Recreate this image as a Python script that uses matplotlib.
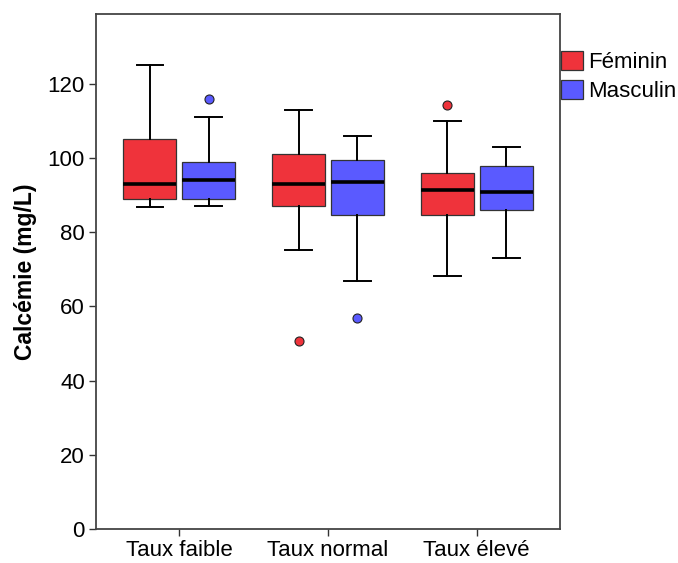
import matplotlib
matplotlib.use("Agg")
import matplotlib.pyplot as plt
from matplotlib.patches import Patch

plt.rcParams['font.family'] = ['Liberation Sans', 'DejaVu Sans']

categories = ["Taux faible", "Taux normal", "Taux élevé"]
groups = ["Féminin", "Masculin"]
colors = ["#EF333B", "#5A5AFF"]

# per group, per category: whislo, q1, med, q3, whishi, outliers
fem_whislo = [86.8, 75.1, 68.3]
fem_q1 = [89.1, 87.1, 84.7]
fem_med = [93.0, 93.0, 91.4]
fem_q3 = [105.2, 101.1, 96.0]
fem_whishi = [125.0, 113.0, 110.0]
fem_fliers = [[], [50.8], [114.2]]

mas_whislo = [87.1, 66.9, 73.2]
mas_q1 = [89.1, 84.6, 86.0]
mas_med = [94.1, 93.7, 91.0]
mas_q3 = [99.0, 99.5, 97.9]
mas_whishi = [111.0, 106.0, 103.0]
mas_fliers = [[116.0], [57.0], []]

yticks = [0, 20, 40, 60, 80, 100, 120]

fig = plt.figure(figsize=(6.78, 5.63), dpi=100)
ax = fig.add_axes([0.1416, 0.0604, 0.6844, 0.9156])

series = [
    (fem_whislo, fem_q1, fem_med, fem_q3, fem_whishi, fem_fliers),
    (mas_whislo, mas_q1, mas_med, mas_q3, mas_whishi, mas_fliers),
]
offsets = [-0.198, 0.198]
width = 0.358
for gi, (wlo, q1, med, q3, whi, fl) in enumerate(series):
    stats = []
    for i in range(len(categories)):
        stats.append(dict(whislo=wlo[i], q1=q1[i], med=med[i], q3=q3[i],
                          whishi=whi[i], fliers=fl[i]))
    pos = [i + offsets[gi] for i in range(len(categories))]
    ax.bxp(stats, positions=pos, widths=width, patch_artist=True,
           showfliers=True, manage_ticks=False,
           boxprops=dict(facecolor=colors[gi], edgecolor="#333333", linewidth=0.9),
           medianprops=dict(color="black", linewidth=2.6, solid_capstyle="butt"),
           whiskerprops=dict(color="black", linewidth=1.4),
           capprops=dict(color="black", linewidth=1.4),
           flierprops=dict(marker="o", markerfacecolor=colors[gi],
                           markeredgecolor="#222222", markersize=6.5,
                           markeredgewidth=0.8))

ax.set_xlim(-0.56, 2.56)
ax.set_ylim(0, 139)
ax.set_xticks(range(len(categories)))
ax.set_xticklabels(categories, fontsize=16)
ax.set_yticks(yticks)
ax.set_yticklabels([str(v) for v in yticks], fontsize=16)
ax.tick_params(axis="both", direction="out", length=5, width=1.0, color="#333333", pad=3)
for s in ax.spines.values():
    s.set_color("#444444")
    s.set_linewidth(1.3)
ax.set_ylabel("Calcémie (mg/L)", fontsize=16.5, fontweight="bold", labelpad=8)

handles = [Patch(facecolor=c, edgecolor="#333333", linewidth=0.9) for c in colors]
leg = ax.legend(handles, groups, loc="upper left", bbox_to_anchor=(1.003, 0.928),
                frameon=False, fontsize=16, handlelength=0.95, handleheight=0.95,
                handletextpad=0.27, borderpad=0, borderaxespad=0, labelspacing=0.3)

fig.savefig("out.png", dpi=100)
